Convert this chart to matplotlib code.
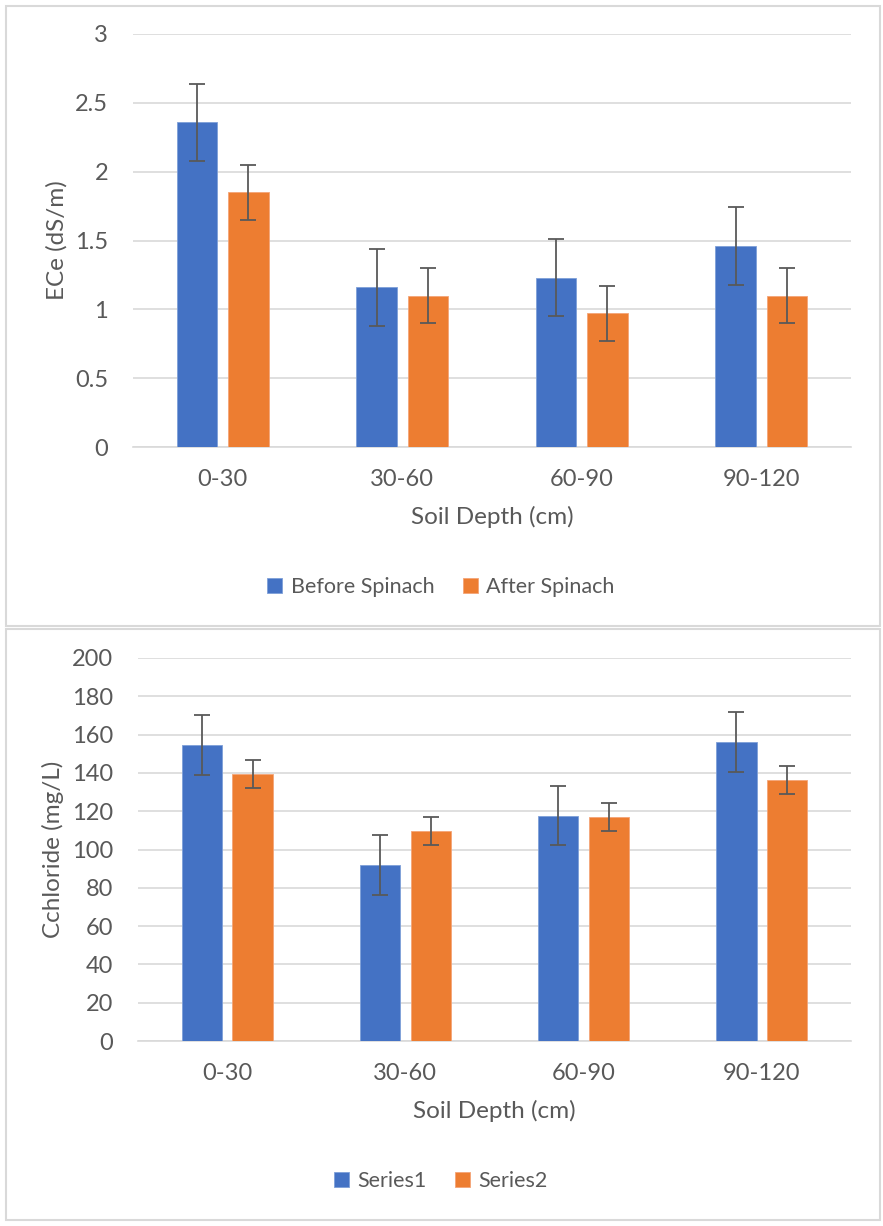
import numpy as np
import matplotlib.pyplot as plt
from matplotlib.patches import Rectangle

depths = ['0-30', '30-60', '60-90', '90-120']

ece_before = [2.36, 1.16, 1.23, 1.46]
ece_after = [1.85, 1.10, 0.97, 1.10]
ece_before_err = [0.28, 0.28, 0.28, 0.28]
ece_after_err = [0.20, 0.20, 0.20, 0.20]

cl_s1 = [154.5, 91.8, 117.7, 156.2]
cl_s2 = [139.4, 109.6, 117.1, 136.2]
cl_s1_err = [15.6, 15.6, 15.6, 15.6]
cl_s2_err = [7.3, 7.3, 7.3, 7.3]

W, H = 883, 1226
blue = '#4472C4'
orange = '#ED7D31'
grey_txt = '#595959'
grid_c = '#D9D9D9'

plt.rcParams['font.family'] = ['Lato', 'DejaVu Sans']

fig = plt.figure(figsize=(W / 100, H / 100), dpi=100)


def px_axes(x0, y0, x1, y1):
    # pixel box (top-left origin) -> figure axes
    return fig.add_axes([x0 / W, 1 - y1 / H, (x1 - x0) / W, (y1 - y0) / H])


# panel borders
for (y0, y1) in [(6, 626), (629, 1220)]:
    fig.patches.append(Rectangle((6 / W, 1 - y1 / H), (880 - 6) / W, (y1 - y0) / H,
                                 transform=fig.transFigure, fill=False,
                                 edgecolor=grid_c, lw=1.5))


def draw(ax, a, b, ea, eb, ymax, step, ylabel, labels, leg_y, ylab_x, xlab_y):
    x = np.arange(len(depths))
    w = 0.2256
    off = w / 2 + 0.03
    eb_kw = dict(ecolor=grey_txt, elinewidth=1.3, capsize=6, capthick=1.3)
    b1 = ax.bar(x - off, a, w, yerr=ea, color=blue, edgecolor='#7E9FD8', lw=0.6,
                error_kw=eb_kw, label=labels[0], zorder=3)
    b2 = ax.bar(x + off, b, w, yerr=eb, color=orange, edgecolor='#F4A477', lw=0.6,
                error_kw=eb_kw, label=labels[1], zorder=3)
    ax.set_xlim(-0.5, len(depths) - 0.5)
    ax.set_ylim(0, ymax)
    ax.set_yticks(np.arange(0, ymax + step / 2, step))
    if step < 1:
        ax.set_yticklabels(['%g' % v for v in np.arange(0, ymax + step / 2, step)])
    ax.set_xticks(x)
    ax.set_xticklabels(depths)
    ax.yaxis.grid(True, color=grid_c, lw=1.2, zorder=0)
    ax.set_axisbelow(True)
    for s in ['top', 'right', 'left']:
        ax.spines[s].set_visible(False)
    ax.spines['bottom'].set_color(grid_c)
    ax.spines['bottom'].set_linewidth(1.2)
    ax.tick_params(length=0, labelsize=17, colors=grey_txt)
    ax.tick_params(axis='x', pad=16)
    ax.tick_params(axis='y', pad=18)
    ax.set_xlabel('Soil Depth (cm)', fontsize=17.5, color=grey_txt, va='center')
    ax.set_ylabel(ylabel, fontsize=17.5, color=grey_txt, va='center')
    ax.xaxis.set_label_coords(0.5, xlab_y)
    ax.yaxis.set_label_coords(ylab_x, 0.5)
    fig.legend([b1, b2], labels, loc='center', bbox_to_anchor=(441 / W, 1 - leg_y / H),
               ncol=2, frameon=False, fontsize=15.5, labelcolor=grey_txt,
               handlelength=0.7, handleheight=0.7, handletextpad=0.4,
               columnspacing=1.3)


ax1 = px_axes(133, 34, 851, 447)
draw(ax1, ece_before, ece_after, ece_before_err, ece_after_err, 3, 0.5,
     'ECe (dS/m)', ['Before Spinach', 'After Spinach'], 587,
     (57 - 133) / 718, -(517 - 447) / 413)

ax2 = px_axes(138, 658, 851, 1041)
draw(ax2, cl_s1, cl_s2, cl_s1_err, cl_s2_err, 200, 20,
     'Cchloride (mg/L)', ['Series1', 'Series2'], 1181,
     (53 - 138) / 713, -(1111 - 1041) / 383)

fig.savefig('out.png', dpi=100)
